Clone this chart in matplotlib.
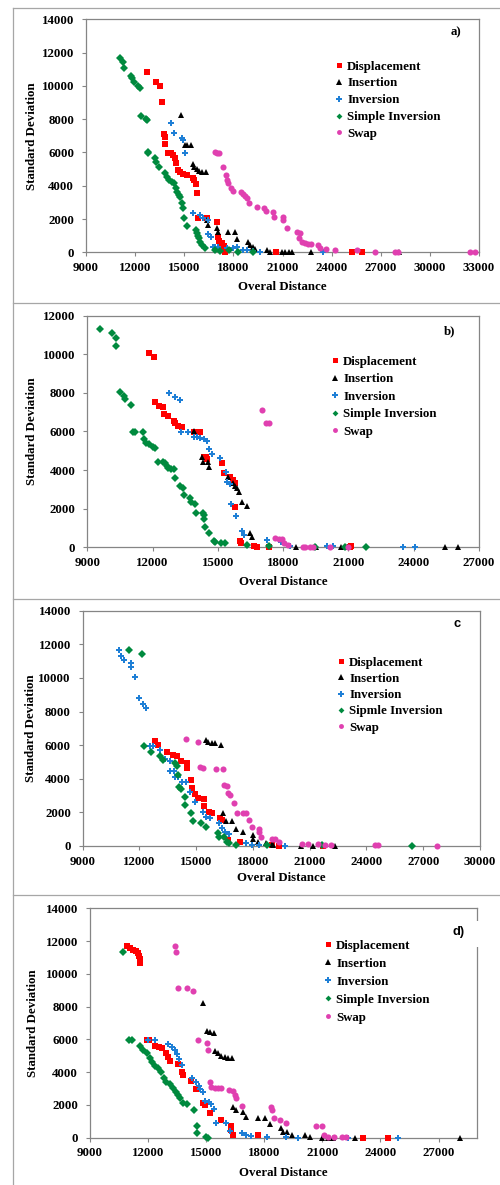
import matplotlib
matplotlib.use('Agg')
import matplotlib.pyplot as plt
from matplotlib.lines import Line2D
from matplotlib.patches import Rectangle

# ---------------- data ----------------
series_names = ['Displacement', 'Insertion', 'Inversion', 'Simple Inversion', 'Swap']
series_names_c = ['Displacement', 'Insertion', 'Inversion', 'Sipmle Inversion', 'Swap']

# Panel a
A_disp_x = [12700, 13280, 13520, 13640, 13770, 13810, 13850, 14030, 14170, 14340, 14440, 14500, 14640, 14740, 14950,
            15190, 15520, 15620, 15700, 15800, 15820, 16370, 17020, 17090, 17150, 17290, 17430, 17490, 20610, 25270, 25880]
A_disp_y = [10860, 10240, 10020, 9020, 7110, 6910, 6510, 5950, 5950, 5850, 5650, 5350, 4950, 4810, 4690,
            4650, 4490, 4350, 4090, 3550, 2080, 2040, 1800, 940, 680, 540, 400, 0, 0, 0, 0]
A_ins_x = [14800, 15050, 15190, 15400, 15520, 15620, 15760, 15930, 16070, 16330, 16410, 16480, 17020, 17040, 17700,
           18100, 18250, 18920, 19020, 19220, 19330, 20040, 20240, 20960, 21160, 21370, 21570, 22730, 28120]
A_ins_y = [8260, 6450, 6450, 6450, 5290, 5150, 5010, 4890, 4850, 4850, 1940, 1640, 1440, 1200, 1240,
           1240, 800, 600, 440, 340, 200, 140, 40, 0, 0, 0, 0, 0, 0]
A_inv_x = [14170, 14400, 14850, 14900, 15050, 15560, 15970, 16170, 16470, 16470, 16620, 16780, 16880, 17090, 17590,
           18000, 18210, 18610, 18820, 19220, 19630, 23500]
A_inv_y = [7760, 7150, 6850, 6750, 5950, 2340, 2240, 2040, 1940, 1080, 940, 340, 340, 340, 280,
           240, 340, 140, 140, 80, 40, 0]
A_sinv_x = [11080, 11240, 11340, 11730, 11790, 11950, 12190, 12300, 12360, 12670, 12750, 12770, 12810, 13220, 13280,
            13480, 13830, 13930, 14070, 14230, 14380, 14500, 14580, 14680, 14740, 14890, 14950, 14990, 15190, 15720,
            15760, 15820, 15900, 15970, 16070, 16270, 16880, 17190, 17760, 18310, 19220]
A_sinv_y = [11660, 11420, 11060, 10620, 10460, 10260, 10020, 9860, 8160, 8020, 7960, 6010, 5950, 5690, 5450,
            5150, 4750, 4550, 4350, 4250, 4150, 3890, 3650, 3450, 3350, 2950, 2650, 2040, 1600, 1340,
            1140, 1000, 840, 640, 440, 280, 140, 80, 140, 40, 0]
A_swap_x = [16880, 17020, 17150, 17390, 17550, 17590, 17700, 17840, 18000, 18450, 18570, 18720, 18820, 18980, 19430,
            19840, 19980, 20450, 20490, 21020, 21060, 21300, 21870, 22070, 22030, 22170, 22380, 22580, 22730, 23190,
            23290, 23670, 24210, 25580, 26620, 27880, 28080, 32420, 32770]
A_swap_y = [6010, 5950, 5950, 5150, 4650, 4350, 4150, 3890, 3690, 3650, 3490, 3410, 3250, 2950, 2750,
            2650, 2510, 2450, 2150, 2150, 1940, 1440, 1200, 1180, 840, 640, 540, 480, 480, 440,
            280, 200, 140, 140, 0, 0, 0, 0, 0]

# Panel b
B_disp_x = [11850, 12050, 12130, 12280, 12480, 12510, 12690, 12970, 13040, 13150, 13350, 13910, 14160, 14340, 14470,
            14520, 15190, 15290, 15570, 15690, 15800, 15800, 16000, 16060, 16640, 16790, 17370, 21070, 21100]
B_disp_y = [10090, 9880, 7510, 7320, 7250, 6910, 6800, 6550, 6420, 6290, 6220, 5980, 5980, 4660, 4660,
            4560, 4350, 3830, 3630, 3490, 3320, 2070, 350, 240, 70, 35, 35, 0, 50]
B_ins_x = [13900, 14270, 14310, 14530, 14570, 15450, 15680, 15770, 15880, 15990, 16100, 16360, 16460, 16560, 18600,
           19510, 20680, 20940, 25430, 26040]
B_ins_y = [6000, 4660, 4440, 4440, 4140, 3660, 3320, 3190, 3060, 2880, 2330, 2160, 730, 520, 30,
           30, 0, 0, 0, 0]
B_inv_x = [12740, 13010, 13270, 13320, 13650, 13910, 14030, 14180, 14340, 14500, 14570, 14740, 15110, 15390, 15420,
           15540, 15600, 15830, 16100, 16180, 17250, 17880, 18020, 18310, 20000, 20300, 23520, 24050]
B_inv_y = [7980, 7810, 7630, 5980, 5980, 5730, 5730, 5650, 5600, 5530, 5080, 4840, 4610, 3920, 3400,
           3280, 2250, 1620, 850, 640, 380, 290, 200, 90, 90, 50, 0, 0]
B_sinv_x = [9570, 10130, 10330, 10330, 10480, 10700, 10710, 11020, 11100, 11200, 11560, 11620, 11710, 11820, 12020,
            12120, 12230, 12470, 12580, 12660, 12730, 12840, 12970, 13040, 13270, 13420, 13460, 13720, 13780, 13960,
            13980, 14310, 14350, 14380, 14420, 14580, 14830, 14880, 15150, 15340, 16320, 17360, 19460, 20840, 21830]
B_sinv_y = [11310, 11090, 10830, 10430, 8070, 7840, 7670, 7370, 5980, 5960, 5960, 5600, 5390, 5340, 5220,
            5130, 4440, 4440, 4350, 4230, 4130, 4060, 4060, 3570, 3190, 3060, 2710, 2540, 2330, 2250,
            1800, 1800, 1680, 1450, 1040, 760, 350, 290, 240, 240, 120, 90, 0, 0, 0]
B_swap_x = [17020, 17210, 17330, 17640, 17790, 17940, 18050, 18200, 18930, 19000, 19240, 19380, 20150, 20990]
B_swap_y = [7120, 6460, 6420, 470, 410, 410, 210, 120, 35, 0, 35, 0, 0, 0]

# Panel c
C_disp_x = [12820, 13000, 13440, 13790, 14000, 14190, 14530, 14530, 14710, 14760, 14940, 15110, 15410, 15430, 15700,
            15820, 16260, 16340, 16700, 17320, 18990, 19380, 21680]
C_disp_y = [6250, 6010, 5570, 5410, 5350, 5060, 4960, 4620, 3930, 3430, 3070, 2880, 2780, 2380, 2040,
            1940, 1650, 1550, 360, 260, 60, 20, 0]
C_ins_x = [15520, 15640, 15820, 16000, 16300, 16400, 16600, 16870, 17100, 17450, 18020, 18020, 18280, 18670, 19020,
           19070, 20540, 21190, 22340]
C_ins_y = [6310, 6210, 6150, 6110, 6010, 1980, 1510, 1510, 1010, 810, 650, 400, 220, 160, 120,
           60, 0, 0, 0]
C_inv_x = [10920, 11030, 11200, 11540, 11560, 11770, 11980, 12210, 12330, 12560, 12740, 13060, 13350, 13620, 13620,
           13830, 13880, 14060, 14230, 14460, 14670, 14940, 15380, 15520, 15730, 16230, 16350, 16530, 16710, 17620,
           17970, 18340, 19700]
C_inv_y = [11660, 11300, 11070, 10870, 10670, 10030, 8780, 8430, 8190, 5950, 5950, 5710, 5160, 5060, 4460,
           4460, 4090, 4090, 3830, 3830, 3230, 2640, 2040, 1740, 1650, 1390, 1050, 850, 710, 160,
           60, 60, 0]
C_sinv_x = [11450, 12150, 12240, 12610, 13060, 13270, 13880, 13970, 14060, 14110, 14200, 14410, 14410, 14710, 14810,
            15270, 15520, 16170, 16210, 16470, 16610, 16750, 17100, 18720, 21650, 26390]
C_sinv_y = [11660, 11420, 5950, 5570, 5350, 5120, 4920, 4760, 4220, 3530, 3390, 2930, 2440, 1940, 1510,
            1390, 1110, 750, 520, 520, 240, 200, 40, 40, 40, 0]
C_swap_x = [14440, 15110, 15200, 15380, 16050, 16400, 16470, 16610, 16660, 16790, 17000, 17180, 17490, 17630, 17810,
            17930, 18320, 18320, 18410, 18990, 19170, 19350, 20610, 20930, 21460, 21810, 22130, 24450, 24630, 27710]
C_swap_y = [6370, 6170, 4720, 4620, 4580, 4580, 3630, 3570, 3130, 3030, 2540, 1980, 1980, 1980, 1550,
            1110, 1010, 850, 560, 400, 400, 260, 120, 120, 120, 60, 60, 40, 40, 0]

# Panel d
D_disp_x = [10920, 11060, 11230, 11400, 11490, 11540, 11580, 11580, 11920, 12060, 12350, 12570, 12740, 12950, 13040,
            13120, 13560, 13730, 13810, 14200, 14450, 14840, 14940, 15190, 15760, 16270, 16300, 16360, 17700, 23080, 24370]
D_disp_y = [11700, 11600, 11460, 11400, 11250, 11110, 10910, 10640, 5960, 5960, 5600, 5510, 5490, 5150, 4950,
            4680, 4480, 4030, 3830, 3480, 2970, 2100, 2000, 1490, 1080, 470, 730, 160, 160, 0, 0]
D_ins_x = [14810, 15050, 15190, 15410, 15480, 15610, 15790, 15960, 16130, 16340, 16390, 16530, 16910, 17030, 17680,
           18050, 18280, 18880, 18970, 19190, 19450, 20080, 20340, 20990, 21280, 21540, 22710, 28120]
D_ins_y = [8200, 6530, 6470, 6410, 5290, 5150, 5010, 4900, 4880, 4840, 1890, 1690, 1550, 1280, 1220,
           1220, 810, 610, 370, 370, 160, 160, 60, 0, 0, 0, 0, 0]
D_inv_x = [12010, 12350, 13040, 13210, 13380, 13470, 13600, 13730, 14290, 14450, 14610, 14700, 14840, 14950, 15150,
           15240, 15410, 15530, 16040, 16210, 16860, 17070, 17330, 18150, 19130, 19730, 22310, 24890]
D_inv_y = [5960, 5960, 5700, 5560, 5350, 5090, 4800, 4440, 3620, 3420, 3170, 2970, 2810, 2260, 2200,
           2060, 1750, 870, 870, 410, 260, 160, 120, 60, 60, 0, 0, 0]
D_sinv_x = [10680, 11030, 11150, 11580, 11750, 11920, 12090, 12180, 12350, 12520, 12690, 12810, 12950, 13120, 13290,
            13430, 13560, 13640, 13810, 14010, 14350, 14520, 14520, 15010, 15100]
D_sinv_y = [11310, 5960, 5960, 5620, 5350, 5150, 4840, 4640, 4400, 4230, 4030, 3620, 3420, 3260, 3050,
            2810, 2600, 2400, 2100, 2040, 1690, 730, 260, 60, 0]
D_swap_x = [13380, 13430, 13520, 14020, 14330, 14580, 15050, 15100, 15190, 15270, 15440, 15610, 15790, 16180, 16390,
            16510, 16560, 16850, 18330, 18420, 18480, 18790, 19140, 20670, 20990, 21080, 21300, 21600, 22000, 22230]
D_swap_y = [11700, 11310, 9160, 9120, 8950, 5960, 5760, 5350, 3420, 3110, 3050, 3050, 3050, 2910, 2850,
            2600, 2400, 1950, 1890, 1690, 1180, 1080, 920, 730, 730, 160, 60, 60, 60, 60]

# ---------------- style ----------------
W, H = 500, 1185
fig = plt.figure(figsize=(W / 100, H / 100), dpi=100)
plt.rcParams['font.family'] = ['Liberation Serif', 'DejaVu Serif']
FS = 9.3

styles = [
    dict(marker='s', color='#FF0000', ms=4.5),
    dict(marker='^', color='#000000', ms=4.6),
    dict(marker='P', color='#1E7FD6', ms=5.0),
    dict(marker='D', color='#008A3E', ms=3.7),
    dict(marker='o', color='#E040B0', ms=4.4),
]

panels = [
    dict(box=(86, 19.3, 479, 252.3), xlim=(9000, 33000), ylim=(0, 14000), ystep=2000,
         data=[(A_disp_x, A_disp_y), (A_ins_x, A_ins_y), (A_inv_x, A_inv_y), (A_sinv_x, A_sinv_y), (A_swap_x, A_swap_y)],
         names=series_names, leg=(335.8, 60.6, 19.6), tag='a)', tagpos=(456, 32.3), tagfont='Liberation Serif',
         ylab=(32, None), xlab=(282.5, 287)),
    dict(box=(87.3, 315.7, 479, 547.3), xlim=(9000, 27000), ylim=(0, 12000), ystep=2000,
         data=[(B_disp_x, B_disp_y), (B_ins_x, B_ins_y), (B_inv_x, B_inv_y), (B_sinv_x, B_sinv_y), (B_swap_x, B_swap_y)],
         names=series_names, leg=(331.8, 355.6, 20.25), tag='b)', tagpos=(450, 331), tagfont='Liberation Serif',
         ylab=(32, None), xlab=(283.5, 581.7)),
    dict(box=(82.7, 610.7, 480, 846), xlim=(9000, 30000), ylim=(0, 14000), ystep=2000,
         data=[(C_disp_x, C_disp_y), (C_ins_x, C_ins_y), (C_inv_x, C_inv_y), (C_sinv_x, C_sinv_y), (C_swap_x, C_swap_y)],
         names=series_names_c, leg=(337.8, 656.6, 19.0), tag='c', tagpos=(456.7, 624), tagfont='Liberation Sans',
         ylab=(31, None), xlab=(281, 878)),
    dict(box=(90, 908.3, 477.3, 1137.7), xlim=(9000, 29000), ylim=(0, 14000), ystep=2000,
         data=[(D_disp_x, D_disp_y), (D_ins_x, D_ins_y), (D_inv_x, D_inv_y), (D_sinv_x, D_sinv_y), (D_swap_x, D_swap_y)],
         names=series_names, leg=(324.8, 939.6, 20.75), tag='d)', tagpos=(458.8, 931.7), tagfont='Liberation Sans',
         ylab=(33, None), xlab=(283.8, 1172.7)),
]

SPINE = '#858585'

for p in panels:
    l, t, r, b = p['box']
    ax = fig.add_axes([l / W, 1 - b / H, (r - l) / W, (b - t) / H])
    for (xs, ys), st, nm in zip(p['data'], styles, p['names']):
        ax.plot(xs, ys, linestyle='none', marker=st['marker'], color=st['color'],
                markersize=st['ms'], markeredgewidth=0, label=nm, clip_on=False, zorder=3)
    ax.set_xlim(*p['xlim'])
    ax.set_ylim(*p['ylim'])
    ax.set_xticks(range(p['xlim'][0], p['xlim'][1] + 1, 3000))
    ax.set_yticks(range(p['ylim'][0], p['ylim'][1] + 1, p['ystep']))
    for s in ax.spines.values():
        s.set_color(SPINE)
        s.set_linewidth(0.9)
    ax.tick_params(axis='both', direction='out', length=3, width=0.8, color=SPINE,
                   labelsize=FS, labelcolor='black')
    ax.tick_params(axis='x', pad=4)
    ax.tick_params(axis='y', pad=5.5)
    for lab in ax.get_xticklabels() + ax.get_yticklabels():
        lab.set_fontweight('bold')

    # legend
    lx, ly, sp = p['leg']
    fx = (lx - l) / (r - l)
    fy = (b - ly) / (b - t)
    leg = ax.legend(loc='upper left', bbox_to_anchor=(fx, fy), frameon=False,
                    prop=dict(family='Liberation Serif', weight='bold', size=FS),
                    handlelength=0.5, handletextpad=0.38, borderpad=0, borderaxespad=0,
                    labelspacing=0.37 + (sp - 19.6) / 12.9, markerscale=0.8)

    # axis labels
    fig.text(p['ylab'][0] / W, 1 - ((t + b) / 2) / H, 'Standard Deviation', rotation=90,
             ha='center', va='center', fontsize=FS, fontweight='bold')
    fig.text(p['xlab'][0] / W, 1 - p['xlab'][1] / H, 'Overal Distance',
             ha='center', va='center', fontsize=FS, fontweight='bold')

    if p['tag'] == 'd)':
        fig.add_artist(Rectangle((450 / W, 1 - 947 / H), 32 / W, 26 / H, transform=fig.transFigure,
                                 facecolor='white', edgecolor='none', zorder=5))
    fig.text(p['tagpos'][0] / W, 1 - p['tagpos'][1] / H, p['tag'], ha='center', va='center',
             fontsize=FS, fontweight='bold', family=p['tagfont'], zorder=6)

# outer table frame lines
FRAME = '#a6a6a6'
fig.add_artist(Line2D([13.3 / W, 13.3 / W], [0, 1 - 8.3 / H], transform=fig.transFigure, color=FRAME, lw=0.9))
for yy in [8.3, 303.3, 599.3, 895]:
    fig.add_artist(Line2D([13.3 / W, 1], [1 - yy / H, 1 - yy / H], transform=fig.transFigure, color=FRAME, lw=0.9))

fig.savefig('out.png', dpi=100)
